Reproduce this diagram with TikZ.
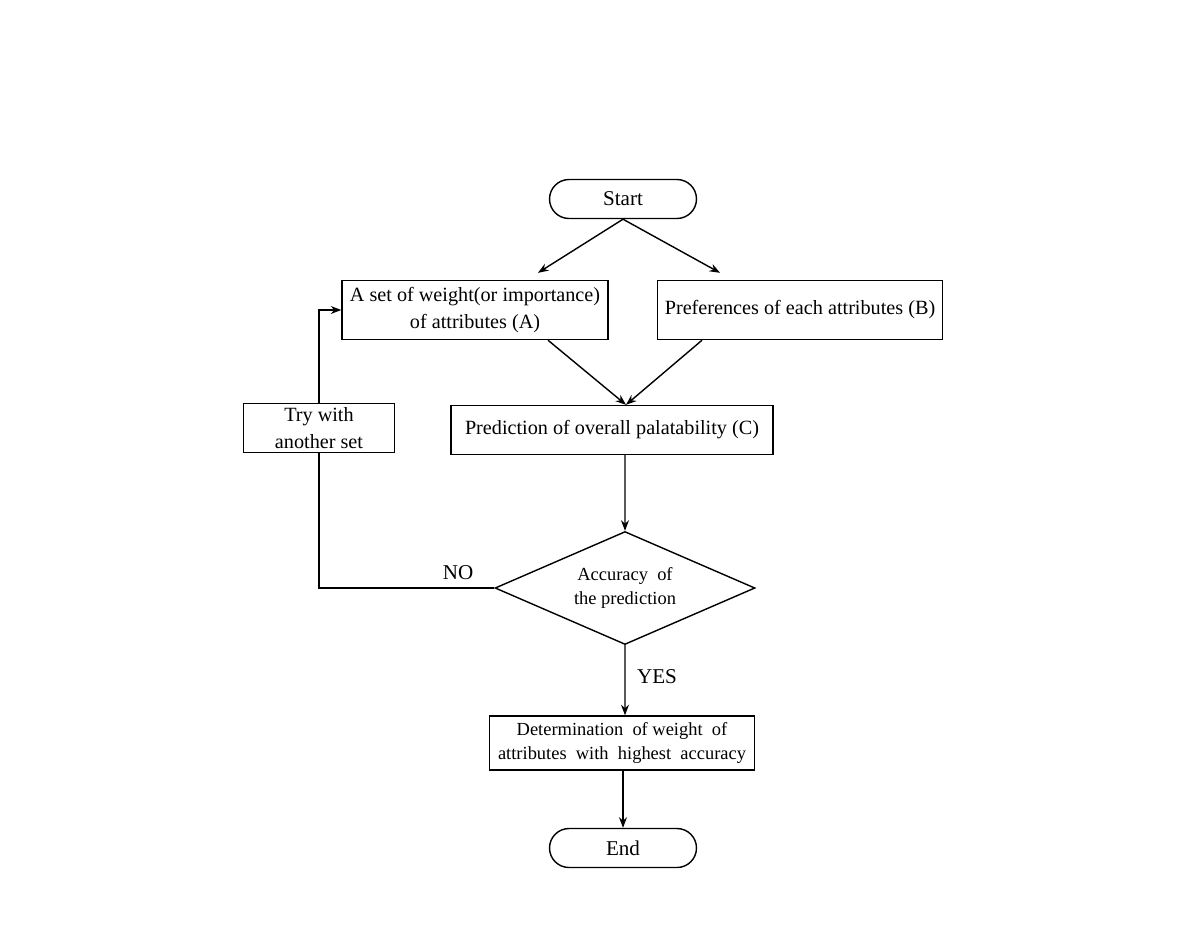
\documentclass[tikz,border=0pt]{standalone}
\usepackage{fontspec}
\setmainfont{Liberation Serif}
\usepackage{tikz}
\usetikzlibrary{shapes.geometric,arrows.meta}

\begin{document}
\begin{tikzpicture}[x=0.02cm, y=-0.02cm, >={Stealth[length=6pt,width=4.5pt]},
                    line width=0.8pt,
                    block/.style={rectangle, draw, text centered, inner sep=2pt,
                    font=\fontsize{11.5}{15.5}\selectfont},
                    term/.style={rectangle, draw, rounded corners=0.39cm,
                    minimum width=2.94cm, minimum height=0.78cm,
                    font=\fontsize{12}{14}\selectfont},
                    decision/.style={diamond, draw, aspect=2.3, inner sep=0pt,
                    minimum width=5.2cm, minimum height=2.26cm, text centered,
                    font=\fontsize{10.5}{13.5}\selectfont},
                    lbl/.style={font=\fontsize{12}{14}\selectfont}]
    \useasboundingbox (0,0) rectangle (1190,941);
    \node [term] (start) at (623,199) {Start};
    \node [block, minimum width=5.32cm, minimum height=1.18cm, align=center] (wset) at (475,310)
          {A set of weight(or importance)\\of attributes (A)};
    \node [block, minimum width=5.7cm, minimum height=1.18cm] (pref) at (800,310)
          {Preferences of each attributes (B)};
    \node [block, minimum width=6.44cm, minimum height=0.98cm] (pred) at (612,430)
          {Prediction of overall palatability (C)};
    \node [block, minimum width=3.02cm, minimum height=0.98cm, align=center] (retry) at (319,428)
          {Try with\\another set};
    \node [decision, align=center] (acc) at (625,588) {Accuracy\ \ of\\the prediction};
    \node [block, minimum width=5.3cm, minimum height=1.08cm, align=center,
           font=\fontsize{10.5}{13.5}\selectfont] (best) at (622,743)
          {Determination\ \ of weight\ \ of\\attributes\ \ with\ \ highest\ \ accuracy};
    \node [term] (finish) at (623,848) {End};
    \node [lbl] (no) at (458,573) {NO};
    \node [lbl] (yes) at (657,677) {YES};

    \draw [->] (start.south) -- ([xshift=1.26cm,yshift=0.14cm]wset.north);
    \draw [->] (start.south) -- ([xshift=-1.6cm,yshift=0.14cm]pref.north);
    \draw [->] ([xshift=1.46cm]wset.south) -- ([xshift=0.28cm]pred.north);
    \draw [->] ([xshift=-1.96cm]pref.south) -- ([xshift=0.28cm]pred.north);
    \draw [->] ([xshift=0.26cm]pred.south) -- (acc.north);
    \draw [->] (acc.south) -- ([xshift=0.06cm]best.north);
    \draw [->] ([xshift=0.02cm]best.south) -- (finish.north);
    \draw (acc.west) -| (retry.south);
    \draw [->] (retry.north) |- (wset.west);
\end{tikzpicture}
\end{document}
